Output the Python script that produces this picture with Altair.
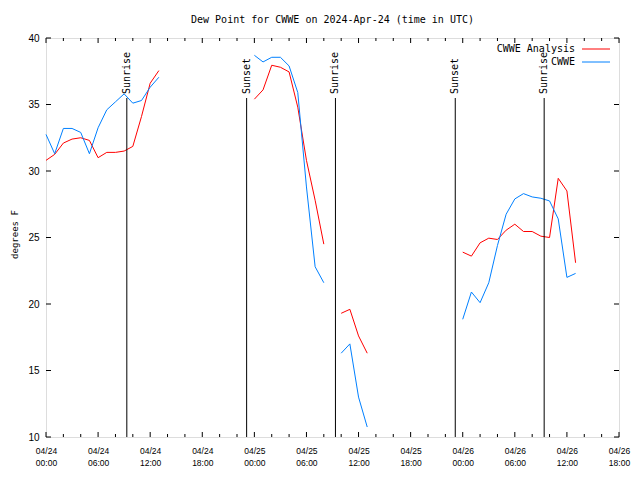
import altair as alt
import pandas as pd

# ---- data (hours since 2024-04-24 00:00 UTC) ----
hours_1 = list(range(0, 14))
analysis_1 = [30.8, 31.25, 32.1, 32.4, 32.5, 32.3, 31.0, 31.4, 31.4, 31.5, 31.85, 34.1, 36.6, 37.55]
cwwe_1 = [32.75, 31.3, 33.2, 33.2, 32.9, 31.3, 33.25, 34.6, 35.2, 35.8, 35.1, 35.3, 36.3, 37.05]

hours_2 = list(range(24, 33))
analysis_2 = [35.4, 36.1, 37.95, 37.8, 37.45, 34.8, 30.8, 27.8, 24.5]
cwwe_2 = [38.7, 38.2, 38.55, 38.55, 37.9, 35.9, 28.8, 22.8, 21.6]

hours_3 = list(range(34, 38))
analysis_3 = [19.3, 19.6, 17.6, 16.3]
cwwe_3 = [16.3, 17.0, 13.0, 10.75]

hours_4 = list(range(48, 62))
analysis_4 = [23.9, 23.6, 24.6, 24.95, 24.85, 25.55, 26.0, 25.45, 25.45, 25.1, 25.0, 29.45, 28.5, 23.1]
cwwe_4 = [18.85, 20.9, 20.1, 21.6, 24.4, 26.75, 27.9, 28.3, 28.05, 27.95, 27.75, 26.4, 22.0, 22.3]

event_hours = [9.31, 23.11, 33.34, 47.14, 57.38]
event_labels = ["Sunrise", "Sunset", "Sunrise", "Sunset", "Sunrise"]

series_names = ["CWWE Analysis", "CWWE"]
series_colors = ["#ff0000", "#0080ff"]

x_major = list(range(0, 67, 6))
x_minor = [h for h in range(0, 67, 2) if h % 6 != 0]
y_ticks = [10, 15, 20, 25, 30, 35, 40]

# ---- build tables ----
rows = []
segments = [(hours_1, analysis_1, cwwe_1), (hours_2, analysis_2, cwwe_2),
            (hours_3, analysis_3, cwwe_3), (hours_4, analysis_4, cwwe_4)]
for si, (hs, a, c) in enumerate(segments):
    for h, v in zip(hs, a):
        rows.append({"hour": h, "value": v, "series": series_names[0], "seg": f"a{si}"})
    for h, v in zip(hs, c):
        rows.append({"hour": h, "value": v, "series": series_names[1], "seg": f"c{si}"})
df = pd.DataFrame(rows)
ev = pd.DataFrame({"hour": event_hours, "label": event_labels})
xmaj = pd.DataFrame({"hour": x_major})
xmin = pd.DataFrame({"hour": x_minor})
yt = pd.DataFrame({"value": y_ticks})

W, H = 573, 399
PAD_LEFT, PAD_TOP = 38, 30
FONT = "DejaVu Sans Mono"

xscale = alt.Scale(domain=[0, 66], nice=False, zero=False)
yscale = alt.Scale(domain=[10, 40], nice=False, zero=False)

X = alt.X("hour:Q", scale=xscale, title=None,
          axis=alt.Axis(values=x_major, ticks=False, domain=False, grid=False,
                        labelFlush=False, labelPadding=9, labelLineHeight=12,
                        labelBaseline="top", labelFontSize=8.5,
                        labelExpr="['04/' + (24 + floor(datum.value/24)), ((datum.value % 24) < 10 ? '0' : '') + (datum.value % 24) + ':00']"))
Y = alt.Y("value:Q", scale=yscale, title="degrees F",
          axis=alt.Axis(values=y_ticks, ticks=False, domain=False, grid=False,
                        labelPadding=7, titleX=-32, titleY=196, titleAngle=270,
                        titleAlign="center", titleBaseline="middle",
                        titleFontSize=9, titleFontWeight="normal", titleFont=FONT,
                        titleColor="black"))

lines = alt.Chart(df).mark_line(strokeWidth=1).encode(
    x=X, y=Y,
    color=alt.Color("series:N", scale=alt.Scale(domain=series_names, range=series_colors), legend=None),
    detail="seg:N",
)

ev_rules = alt.Chart(ev).mark_rule(color="black", strokeWidth=1).encode(
    x=X, y=alt.value(60), y2=alt.value(H))
ev_text = alt.Chart(ev).mark_text(angle=270, align="left", baseline="middle",
                                  font=FONT, fontSize=10, color="black").encode(
    x=X, y=alt.value(56), text="label:N")

tick_layers = []
for d, ln in ((xmaj, 5), (xmin, 3)):
    tick_layers.append(alt.Chart(d).mark_rule(color="black").encode(x=X, y=alt.value(H), y2=alt.value(H - ln)))
    tick_layers.append(alt.Chart(d).mark_rule(color="black").encode(x=X, y=alt.value(0), y2=alt.value(ln)))
tick_layers.append(alt.Chart(yt).mark_rule(color="black").encode(y=Y, x=alt.value(0), x2=alt.value(5)))
tick_layers.append(alt.Chart(yt).mark_rule(color="black").encode(y=Y, x=alt.value(W), x2=alt.value(W - 5)))

leg_layers = []
for i, (nm, col) in enumerate(zip(series_names, series_colors)):
    yy = 11 + 13 * i
    leg_layers.append(alt.Chart(pd.DataFrame({"t": [nm]})).mark_text(
        align="right", baseline="middle", font=FONT, fontSize=10, color="black").encode(
        x=alt.value(529), y=alt.value(yy), text="t:N"))
    leg_layers.append(alt.Chart(pd.DataFrame({"t": [nm]})).mark_rule(color=col, strokeWidth=1).encode(
        x=alt.value(536), x2=alt.value(564), y=alt.value(yy)))

chart = alt.layer(lines, ev_rules, ev_text, *tick_layers, *leg_layers).properties(
    width=W, height=H,
    title=alt.Title("Dew Point for CWWE on 2024-Apr-24 (time in UTC)", font=FONT,
                    fontSize=10, fontWeight="normal", offset=8, anchor="middle", color="black"),
    autosize=alt.AutoSizeParams(type="none"),
    padding={"left": PAD_LEFT, "top": PAD_TOP, "right": 624 - PAD_LEFT - W,
             "bottom": 460 - PAD_TOP - H},
).configure_view(stroke="black", strokeWidth=1).configure_axis(
    labelFont=FONT, labelFontSize=9, labelColor="black"
).configure(background="white")

chart.save("out.html", embed_options={"renderer": "svg", "actions": False})
